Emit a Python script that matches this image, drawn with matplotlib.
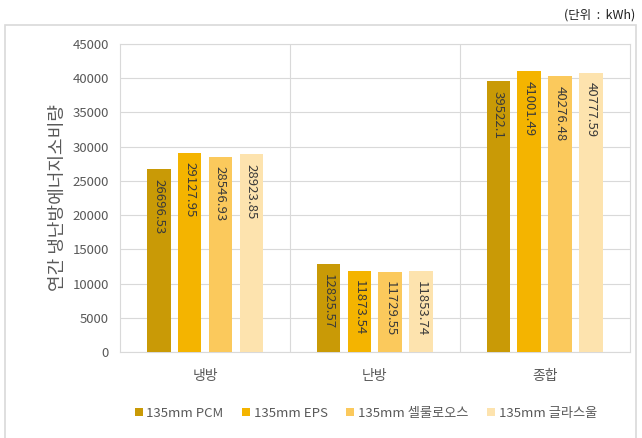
import numpy as np
import matplotlib.pyplot as plt
from matplotlib.patches import Rectangle

plt.rcParams['font.family'] = ['Noto Sans CJK KR', 'DejaVu Sans']

# 데이터
categories = ["냉방", "난방", "종합"]
series_names = ["135mm PCM", "135mm EPS", "135mm 셀룰로오스", "135mm 글라스울"]
pcm = [26696.53, 12825.57, 39522.1]
eps = [29127.95, 11873.54, 41001.49]
cellulose = [28546.93, 11729.55, 40276.48]
glasswool = [28923.85, 11853.74, 40777.59]
label_texts = [
    ["26696.53", "12825.57", "39522.1"],
    ["29127.95", "11873.54", "41001.49"],
    ["28546.93", "11729.55", "40276.48"],
    ["28923.85", "11853.74", "40777.59"],
]
colors = ["#C99A06", "#F4B400", "#FBC95C", "#FDE3AE"]

fig = plt.figure(figsize=(6.42, 4.38), dpi=100)
ax = fig.add_axes([0.187, 0.196, 0.794, 0.704])

# 바깥 테두리 (아래쪽은 잘려 있음)
fig.patches.append(Rectangle((0.008, -0.05), 0.983, 0.993, transform=fig.transFigure,
                             fill=False, edgecolor="#D9D9D9", lw=1.2))

x = np.arange(len(categories))
width = 0.14
step = 0.182
all_series = [pcm, eps, cellulose, glasswool]
for i, vals in enumerate(all_series):
    pos = x + (i - 1.5) * step
    ax.bar(pos, vals, width, color=colors[i], label=series_names[i], zorder=3)
    for px, v, t in zip(pos, vals, label_texts[i]):
        ax.text(px, v - 1400, t, rotation=-90, ha="center", va="top",
                fontsize=9.5, color="#3A3A3A", zorder=4)

ax.set_xlim(-0.5, 2.5)
ax.set_ylim(0, 45000)
ax.set_yticks(np.arange(0, 45001, 5000))
ax.set_xticks(x)
ax.set_xticklabels(categories, fontsize=10, color="#595959")
ax.tick_params(axis="y", labelsize=9.5, colors="#595959", length=0, pad=8)
ax.tick_params(axis="x", length=0, pad=12)
ax.yaxis.grid(True, color="#D9D9D9", lw=0.8, zorder=0)
for b in [0.5, 1.5]:
    ax.axvline(b, color="#D9D9D9", lw=0.8, zorder=0)
for s in ax.spines.values():
    s.set_color("#D9D9D9")
    s.set_linewidth(0.8)
ax.set_ylabel("연간 냉난방에너지소비량", fontsize=13, color="#595959", labelpad=4)

fig.text(0.99, 0.965, "(단위  :  kWh)", ha="right", va="center", fontsize=9, color="#222222")

fig.legend(loc="center", bbox_to_anchor=(0.57, 0.057), ncol=4, frameon=False,
           fontsize=9.5, handlelength=0.6, handleheight=0.6, handletextpad=0.3,
           columnspacing=1.4, labelcolor="#595959")

fig.savefig("out.png", dpi=100)
